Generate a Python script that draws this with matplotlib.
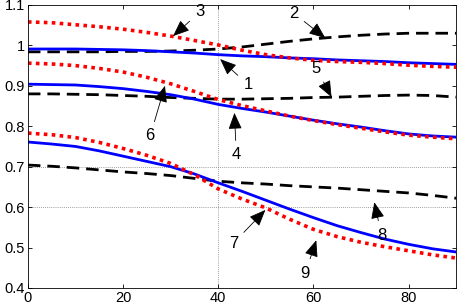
import matplotlib
matplotlib.use("Agg")
import matplotlib.pyplot as plt

plt.rcParams['font.family'] = ['Liberation Sans', 'DejaVu Sans']

x = [0, 5, 10, 15, 20, 25, 30, 35, 40, 45, 50, 55, 60, 65, 70, 75, 80, 85, 90]

blue_1 = [0.991, 0.991, 0.991, 0.990, 0.989, 0.987, 0.984, 0.981, 0.977, 0.974, 0.972, 0.969,
          0.967, 0.964, 0.962, 0.960, 0.957, 0.955, 0.953]
black_2 = [0.984, 0.984, 0.984, 0.984, 0.985, 0.985, 0.986, 0.988, 0.991, 0.996, 1.003, 1.010,
           1.016, 1.021, 1.025, 1.028, 1.030, 1.030, 1.030]
red_3 = [1.058, 1.056, 1.051, 1.046, 1.040, 1.032, 1.023, 1.012, 1.001, 0.988, 0.977, 0.969,
         0.963, 0.960, 0.958, 0.955, 0.951, 0.948, 0.946]

blue_4 = [0.904, 0.903, 0.902, 0.898, 0.893, 0.886, 0.878, 0.867, 0.854, 0.844, 0.835, 0.825,
          0.815, 0.806, 0.798, 0.789, 0.781, 0.776, 0.773]
black_5 = [0.880, 0.880, 0.879, 0.878, 0.876, 0.874, 0.871, 0.869, 0.867, 0.867, 0.868, 0.869,
           0.871, 0.872, 0.874, 0.876, 0.877, 0.876, 0.872]
red_6 = [0.956, 0.954, 0.950, 0.943, 0.934, 0.921, 0.905, 0.886, 0.866, 0.851, 0.838, 0.825,
         0.814, 0.804, 0.795, 0.786, 0.778, 0.773, 0.769]

blue_7 = [0.761, 0.756, 0.750, 0.739, 0.726, 0.713, 0.700, 0.682, 0.660, 0.639, 0.617, 0.595,
          0.574, 0.554, 0.537, 0.521, 0.508, 0.497, 0.489]
black_8 = [0.704, 0.701, 0.697, 0.692, 0.687, 0.683, 0.678, 0.671, 0.664, 0.660, 0.657, 0.653,
           0.650, 0.647, 0.643, 0.639, 0.635, 0.629, 0.622]
red_9 = [0.783, 0.779, 0.772, 0.760, 0.745, 0.728, 0.708, 0.680, 0.645, 0.620, 0.598, 0.570,
         0.545, 0.527, 0.513, 0.502, 0.492, 0.482, 0.474]

labels = ["1", "2", "3", "4", "5", "6", "7", "8", "9"]
label_text_xy = [(46.3, 0.902), (55.8, 1.080), (36.2, 1.083), (43.8, 0.729), (60.6, 0.944),
                 (25.7, 0.776), (43.2, 0.511), (74.3, 0.531), (58.3, 0.437)]
label_head_xy = [(40.4, 0.966), (62.5, 1.018), (30.5, 1.023), (43.4, 0.833), (63.8, 0.872),
                 (28.8, 0.900), (49.9, 0.593), (72.8, 0.612), (60.6, 0.518)]

xticks = [0, 20, 40, 60, 80]
yticks = [0.4, 0.5, 0.6, 0.7, 0.8, 0.9, 1.0, 1.1]
ytick_labels = ["0.4", "0.5", "0.6", "0.7", "0.8", "0.9", "1", "1.1"]

fig = plt.figure(figsize=(4.58, 3.08), dpi=100)
ax = fig.add_axes([0.061, 0.065, 0.935, 0.919])

# partial grid
ax.axvline(40, color='#808080', lw=0.6, ls=(0, (1, 1.5)), zorder=0)
for gy in [0.6, 0.7]:
    ax.axhline(gy, color='#808080', lw=0.6, ls=(0, (1, 1.5)), zorder=0)

dash = (0, (4.5, 2.5))
dot = (0, (1, 1.2))
for b, k, r in [(blue_1, black_2, red_3), (blue_4, black_5, red_6), (blue_7, black_8, red_9)]:
    ax.plot(x, k, color='black', lw=2.0, ls=dash)
    ax.plot(x, b, color='#0000ff', lw=2.0, ls='-')
    ax.plot(x, r, color='#ff0000', lw=2.6, ls=dot)

for lab, txy, hxy in zip(labels, label_text_xy, label_head_xy):
    ax.annotate(lab, xy=hxy, xytext=txy, fontsize=12, ha='center', va='center',
                arrowprops=dict(arrowstyle='-|>,head_length=0.85,head_width=0.35',
                                color='black', lw=0.6, shrinkA=3, shrinkB=0))

ax.set_xlim(0, 90)
ax.set_ylim(0.4, 1.1)
ax.set_xticks(xticks)
ax.set_yticks(yticks)
ax.set_yticklabels(ytick_labels)
ax.tick_params(direction='in', top=True, right=True, length=3, width=0.6, labelsize=10.5, pad=2)
for s in ax.spines.values():
    s.set_linewidth(0.6)

fig.savefig("out.png", dpi=100)
